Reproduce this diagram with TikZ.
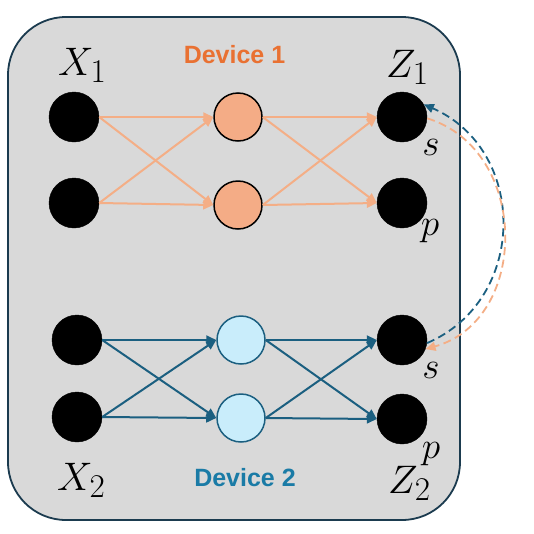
\documentclass[tikz,border=0pt]{standalone}
\usepackage{graphicx}
\usepackage{fontspec}
\newfontfamily\devfont{Liberation Sans}
\usetikzlibrary{arrows.meta}
\definecolor{orng}{HTML}{E97132}
\definecolor{orline}{HTML}{F4AE86}
\definecolor{orfill}{HTML}{F4AC86}
\definecolor{bline}{HTML}{1B5F80}
\definecolor{bfill}{HTML}{C9EDFB}
\definecolor{btext}{HTML}{1A7BA6}
\definecolor{framec}{HTML}{1B3B4F}
\definecolor{panel}{HTML}{D9D9D9}
\newcommand{\mylabbig}[1]{\scalebox{1.6}{\Huge$#1$}}
\newcommand{\mylabmid}[1]{\scalebox{1.5}{\Huge$#1$}}
\begin{document}
\begin{tikzpicture}[x=1pt,y=-1pt,
  blk/.style={circle,fill=black,draw=black,minimum size=50pt,inner sep=0pt},
  ohid/.style={circle,fill=orfill,draw=black,line width=1.5pt,minimum size=48pt,inner sep=0pt},
  bhid/.style={circle,fill=bfill,draw=bline,line width=1.5pt,minimum size=48pt,inner sep=0pt},
  oarr/.style={draw=orline,line width=2pt,-{Triangle[length=10pt,width=9pt]}},
  barr/.style={draw=bline,line width=2pt,-{Triangle[length=10pt,width=9pt]}},
  dsh/.style={line width=1.8pt,dash pattern=on 8pt off 4.5pt,-{Triangle[length=10pt,width=9pt]}},
  mlab/.style={inner sep=0pt},
  sp/.style={inner sep=0pt},
  dev/.style={font=\devfont\bfseries\fontsize{25}{28}\selectfont,inner sep=0pt}]
\useasboundingbox (0,0) rectangle (534,533);
\draw[framec,line width=1.8pt,fill=panel,rounded corners=58pt] (8,17) rectangle (460,520);

\node[blk] (x1a) at (74,117) {};
\node[blk] (x1b) at (74,203) {};
\node[ohid] (h1a) at (238,117) {};
\node[ohid] (h1b) at (238,205) {};
\node[blk] (z1s) at (402,117) {};
\node[blk] (z1p) at (402,203) {};
\node[blk] (x2a) at (77,340) {};
\node[blk] (x2b) at (77,417) {};
\node[bhid] (h2a) at (241,340) {};
\node[bhid] (h2b) at (241,418) {};
\node[blk] (z2s) at (402,340) {};
\node[blk] (z2p) at (402,419) {};

\node[mlab,anchor=base west] (lx1) at (58,75) {\mylabbig{X_1}};
\node[mlab,anchor=base west] (lz1) at (386,77) {\mylabbig{Z_1}};
\node[mlab,anchor=base west] (lx2) at (57,490) {\mylabbig{X_2}};
\node[mlab,anchor=base west] (lz2) at (388,493) {\mylabbig{Z_2}};
\node[sp] (ls1) at (431,147) {\mylabmid{s}};
\node[sp] (lp1) at (430,231) {\mylabmid{p}};
\node[sp] (ls2) at (431,370) {\mylabmid{s}};
\node[sp] (lp2) at (431,454) {\mylabmid{p}};
\node[dev,anchor=base,text=orng] (d1) at (234.5,63) {Device 1};
\node[dev,anchor=base,text=btext] (d2) at (245,486) {Device 2};

\foreach \a in {x1a,x1b} \foreach \b in {h1a,h1b} \draw[oarr] (\a.east) -- (\b.west);
\foreach \a in {h1a,h1b} \foreach \b in {z1s,z1p} \draw[oarr] (\a.east) -- (\b.west);
\foreach \a in {x2a,x2b} \foreach \b in {h2a,h2b} \draw[barr] (\a.east) -- (\b.west);
\foreach \a in {h2a,h2b} \foreach \b in {z2s,z2p} \draw[barr] (\a.east) -- (\b.west);

\draw[dsh,bline] (z2s.-7) .. controls (528,300) and (528,150) .. (z1s.30);
\draw[dsh,orline] (z1s.-3) .. controls (530,150) and (530,320) .. (z2s.-21);
\end{tikzpicture}
\end{document}
